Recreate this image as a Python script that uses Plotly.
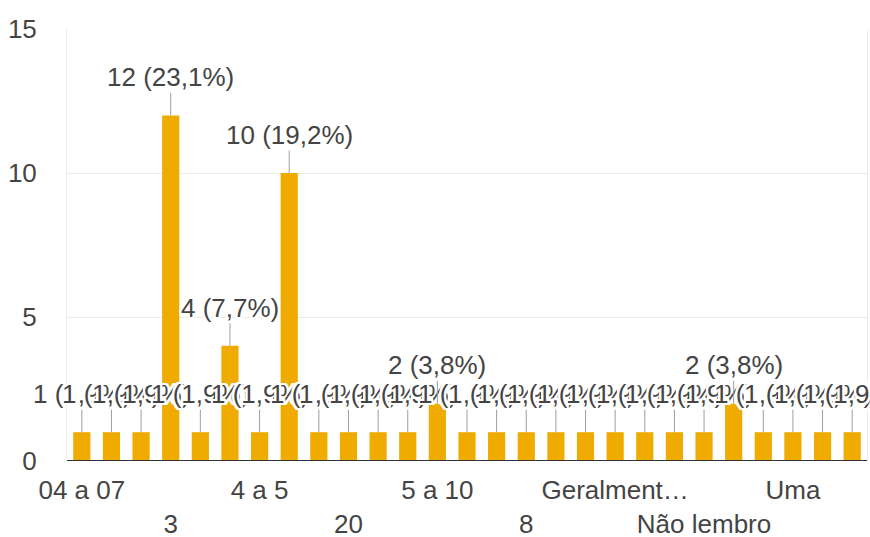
import plotly.graph_objects as go

# Answer categories (in response order) and how many people gave each one
categories = [
    "04 a 07", "2 a 3", "1", "3", "3 a 4", "2", "4 a 5", "4", "6", "20",
    "10", "5 vezes", "5 a 10", "15", "30", "8", "Diariamente", "Duas",
    "Geralment…", "Mais de 10", "Nenhuma", "Não lembro", "6 a 8",
    "Todos os dias", "Uma", "Várias", "7",
]
counts = [1, 1, 1, 12, 1, 4, 1, 10, 1, 1, 1, 1, 2, 1, 1, 1, 1, 1, 1, 1, 1, 1, 2, 1, 1, 1, 1]

# Category labels shown under the axis, alternating between two rows
shown_ticks = ["04 a 07", "3", "4 a 5", "20", "5 a 10", "8", "Geralment…", "Não lembro", "Uma"]
y_ticks = [0, 5, 10, 15]

BAR = "#EFAB00"
TEXT = "#444444"
FONT = "Arial, Liberation Sans, sans-serif"
HALO = ", ".join(
    f"{dx}px {dy}px 0 #fff"
    for dx in (-2, -1, 0, 1, 2) for dy in (-2, -1, 0, 1, 2) if (dx, dy) != (0, 0)
)

total = sum(counts)
pos = list(range(len(categories)))  # one slot per category on a linear axis

fig = go.Figure(
    go.Bar(
        x=pos,
        y=counts,
        customdata=categories,
        marker=dict(color=BAR, line=dict(width=0)),
        hovertemplate="%{customdata}: %{y}<extra></extra>",
    )
)

# Value labels "n (p%)" sitting above each bar with a thin leader line
for p, n in zip(pos, counts):
    pct = f"{n / total * 100:.1f}".replace(".", ",")
    fig.add_annotation(
        x=p, y=n, xref="x", yref="y",
        text=f"{n} ({pct}%)",
        showarrow=True, ax=0, ay=-38,
        arrowhead=0, arrowwidth=1, arrowcolor="#9e9e9e", standoff=0,
        borderpad=0,
        font=dict(family=FONT, size=26, color=TEXT, shadow=HALO),
    )

tick_pos = [categories.index(t) for t in shown_ticks]
tick_text = [t if i % 2 == 0 else "<br>" + t for i, t in enumerate(shown_ticks)]

fig.update_layout(
    width=870, height=537,
    margin=dict(l=67, r=3, t=29, b=76),
    paper_bgcolor="white", plot_bgcolor="white",
    bargap=0.42,
    showlegend=False,
    font=dict(family=FONT, size=26, color=TEXT),
    xaxis=dict(
        range=[-0.5, len(categories) - 0.5],
        tickmode="array", tickvals=tick_pos, ticktext=tick_text,
        tickangle=0, automargin=False,
        showgrid=False, zeroline=False, showline=False,
        ticks="", ticklabelstandoff=11,
        tickfont=dict(size=26, color=TEXT),
    ),
    yaxis=dict(
        range=[0, 15], automargin=False,
        tickmode="array", tickvals=y_ticks,
        showgrid=True, gridcolor="#ebebeb", gridwidth=1,
        zeroline=False,
        showline=True, mirror=True, linecolor="#ebebeb", linewidth=1,
        ticks="", ticklabelstandoff=24,
        tickfont=dict(size=26, color=TEXT),
    ),
)

# Dark baseline across the bottom of the plot
fig.add_shape(
    type="line", xref="paper", yref="y", x0=0, x1=1, y0=0, y1=0,
    line=dict(color="#333333", width=2), layer="above",
)

fig.write_html("out.html")
